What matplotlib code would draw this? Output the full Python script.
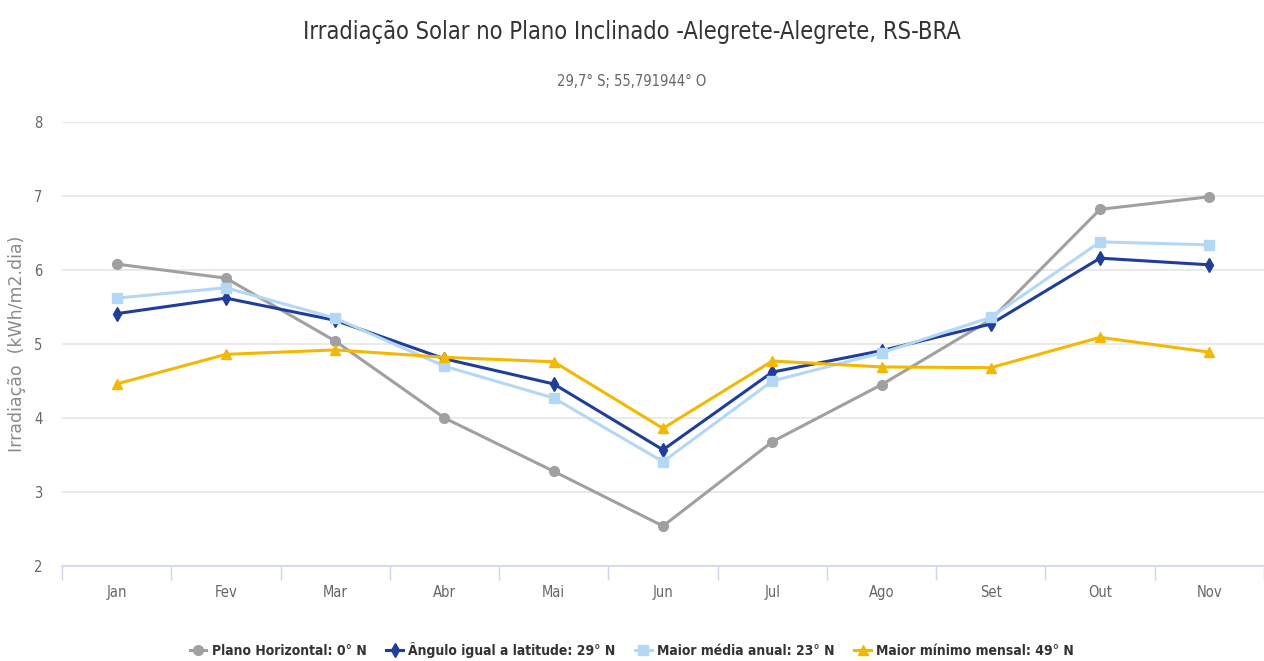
import numpy as np
import matplotlib.pyplot as plt

# Meses e séries (kWh/m2.dia)
meses = ["Jan", "Fev", "Mar", "Abr", "Mai", "Jun", "Jul", "Ago", "Set", "Out", "Nov"]
plano_horizontal = [6.08, 5.89, 5.04, 4.00, 3.28, 2.54, 3.68, 4.45, 5.33, 6.82, 6.99]
angulo_latitude = [5.41, 5.62, 5.32, 4.80, 4.46, 3.57, 4.62, 4.91, 5.27, 6.16, 6.07]
maior_media = [5.62, 5.76, 5.35, 4.70, 4.27, 3.41, 4.50, 4.88, 5.36, 6.38, 6.34]
maior_minimo = [4.46, 4.86, 4.92, 4.82, 4.76, 3.86, 4.77, 4.69, 4.68, 5.09, 4.89]

series = [
    ("Plano Horizontal: 0° N", plano_horizontal, "#a0a0a0", "o", 7),
    ("Ângulo igual a latitude: 29° N", angulo_latitude, "#1f3d9c", "d", 7),
    ("Maior média anual: 23° N", maior_media, "#b3d8f6", "s", 7),
    ("Maior mínimo mensal: 49° N", maior_minimo, "#f5b800", "^", 7),
]

fonte = {"family": ["DejaVu Sans"], "stretch": "condensed"}

fig = plt.figure(figsize=(12.64, 6.61), dpi=100)
ax = fig.add_axes([62 / 1264, 1 - 566 / 661, 1 - 62 / 1264, (566 - 122) / 661])

x = np.arange(len(meses))
for nome, valores, cor, marcador, tam in series:
    ax.plot(x, valores, color=cor, lw=2.2, marker=marcador, markersize=tam,
            label=nome, zorder=3)

ax.set_xlim(-0.5, 10.43)
ax.set_ylim(2, 8)
ax.set_yticks(range(2, 9))
ax.set_xticks(x)
ax.set_xticklabels(meses, fontsize=10.5, color="#666666", **fonte)
ax.set_xticks(np.arange(-0.5, 11, 1), minor=True)
ax.tick_params(axis="x", which="major", length=0, pad=14)
ax.tick_params(axis="x", which="minor", length=10, color="#ccd6eb", width=1)
ax.tick_params(axis="y", length=0, pad=14, labelsize=10.5, labelcolor="#666666")
for lbl in ax.get_yticklabels():
    lbl.set_fontstretch("condensed")

ax.grid(axis="y", color="#e6e6e6", lw=1.2)
ax.set_axisbelow(True)
for lado in ["top", "right", "left"]:
    ax.spines[lado].set_visible(False)
ax.spines["bottom"].set_color("#ccd6eb")
ax.spines["bottom"].set_linewidth(1.2)

ax.set_ylabel("Irradiação  (kWh/m2.dia)", fontsize=12.5, color="#8a8a8a")
ax.yaxis.set_label_coords(-0.030, 0.5)

fig.text(0.5, 1 - 32 / 661, "Irradiação Solar no Plano Inclinado -Alegrete-Alegrete, RS-BRA",
         ha="center", va="center", fontsize=17, color="#333333", **fonte)
fig.text(0.5, 1 - 82 / 661, "29,7° S; 55,791944° O",
         ha="center", va="center", fontsize=10.5, color="#666666", **fonte)

leg = fig.legend(loc="center", bbox_to_anchor=(0.5, 1 - 650 / 661), ncol=4, frameon=False,
                 handlelength=1.2, columnspacing=1.4, handletextpad=0.4,
                 prop={"size": 10, "weight": "bold", "stretch": "condensed"})
for t in leg.get_texts():
    t.set_color("#333333")

fig.savefig("out.png", dpi=100)
